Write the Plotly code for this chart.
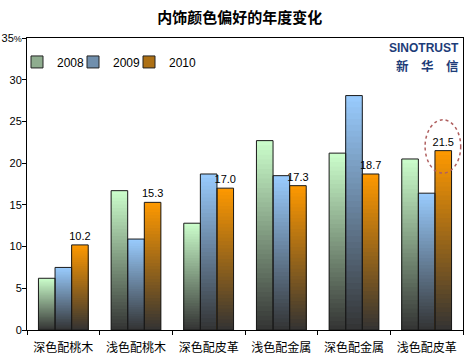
import plotly.graph_objects as go

categories = ["深色配桃木", "浅色配桃木", "深色配皮革", "浅色配金属", "深色配金属", "浅色配皮革"]
years = ["2008", "2009", "2010"]
v2008 = [6.2, 16.7, 12.8, 22.7, 21.2, 20.5]
v2009 = [7.5, 10.9, 18.7, 18.5, 28.1, 16.4]
v2010 = [10.2, 15.3, 17.0, 17.3, 18.7, 21.5]
ytick_vals = [0, 5, 10, 15, 20, 25, 30, 35]
ytick_text = ["0", "5", "10", "15", "20", "25", "30", "35<span style='font-size:9px'>%</span>"]
title_text = "内饰颜色偏好的年度变化"
highlight_index = 5

series = [v2008, v2009, v2010]
top_colors = [(204, 255, 204), (153, 204, 255), (255, 153, 0)]
bottom_color = (51, 51, 51)
N = 40

FONT = "Liberation Sans, Arial, Noto Sans CJK SC, sans-serif"
L, R, T, B, W, H = 27, 12, 38, 29, 475, 359
PW = W - L - R


def mix(c1, c2, t):
    return "rgb(%d,%d,%d)" % tuple(round(a + (b - a) * t) for a, b in zip(c1, c2))


fig = go.Figure()

# legend swatches (one legend per series for Excel-like spacing)
legend_names = ["legend", "legend2", "legend3"]
legend_px = [17, 73, 129]
for s, (name, top) in enumerate(zip(years, top_colors)):
    fig.add_trace(go.Bar(
        x=categories, y=[None] * len(categories), name=name, offsetgroup=str(s),
        marker=dict(color=mix(bottom_color, top, 0.6), line=dict(color="#222", width=1)),
        showlegend=True, hoverinfo="skip", legend=legend_names[s]))

# gradient fills (overlapping layers, top colour first)
for s, (vals, top) in enumerate(zip(series, top_colors)):
    for k in range(N):
        frac = (N - k) / N
        fig.add_trace(go.Bar(
            x=categories, y=[v * frac for v in vals], offsetgroup=str(s),
            marker=dict(color=mix(bottom_color, top, frac - 0.5 / N), line=dict(width=0)),
            showlegend=False, hoverinfo="skip"))

# outlines + labels
for s, vals in enumerate(series):
    kw = {}
    if s == 2:
        kw = dict(text=["%.1f" % v for v in vals], textposition="outside",
                  textfont=dict(size=11, color="#000", family=FONT),
                  constraintext="none", cliponaxis=False)
    fig.add_trace(go.Bar(
        x=categories, y=vals, offsetgroup=str(s), name=years[s],
        marker=dict(color="rgba(0,0,0,0)", line=dict(color="#1a1a1a", width=1)),
        showlegend=False, **kw))

bw = (1 - 0.315) / 3
cx = highlight_index + bw
hv = v2010[highlight_index]
fig.add_shape(type="circle", xref="x", yref="y",
              x0=cx - 0.25, x1=cx + 0.24, y0=hv - 2.7, y1=hv + 3.7,
              line=dict(color="#b06060", width=1.5, dash="dot"))

fig.add_annotation(text="<b>SINOTRUST</b>", xref="paper", yref="paper", x=0.993, y=0.965,
                   xanchor="right", yanchor="middle", showarrow=False, borderpad=0,
                   font=dict(size=12, color="#1d3c78", family=FONT))
fig.add_annotation(text="<b>新\u3000华\u3000信</b>", xref="paper", yref="paper", x=0.993, y=0.907,
                   xanchor="right", yanchor="middle", showarrow=False, borderpad=0,
                   font=dict(size=12.5, color="#1d3c78", family="Noto Sans CJK SC"))

legend_common = dict(orientation="h", y=0.918, xanchor="left", yanchor="middle",
                     font=dict(size=12, color="#000", family=FONT), bgcolor="rgba(0,0,0,0)",
                     itemwidth=30)
fig.update_layout(
    width=W, height=H,
    margin=dict(l=L, r=R, t=T, b=B, autoexpand=False),
    paper_bgcolor="white", plot_bgcolor="white",
    barmode="group", bargap=0.315, bargroupgap=0,
    title=dict(text="<b>" + title_text + "</b>", x=0.505, xanchor="center", y=0.95, yanchor="middle",
               font=dict(size=15, color="#000", family="Noto Sans CJK SC")),
    legend=dict(x=(legend_px[0] - L) / PW, **legend_common),
    legend2=dict(x=(legend_px[1] - L) / PW, **legend_common),
    legend3=dict(x=(legend_px[2] - L) / PW, **legend_common),
    font=dict(family=FONT, color="#000"),
    showlegend=True,
)
fig.update_yaxes(range=[0, 35], tickvals=ytick_vals, ticktext=ytick_text, automargin=False,
                 showgrid=False, zeroline=False, showline=True, linecolor="#000", linewidth=1,
                 mirror=True, ticks="outside", ticklen=4, tickcolor="#000", ticklabelstandoff=-2,
                 tickfont=dict(size=11, family=FONT))
fig.update_xaxes(showgrid=False, showline=True, linecolor="#000", linewidth=1, mirror=True,
                 ticks="outside", ticklen=4, tickcolor="#000", tickson="boundaries", automargin=False,
                 ticklabelstandoff=7,
                 tickfont=dict(size=12, family="Noto Sans CJK SC", color="#000"))

fig.write_html("out.html", config={"displayModeBar": False},
               post_script="document.body.style.margin='0px';")
